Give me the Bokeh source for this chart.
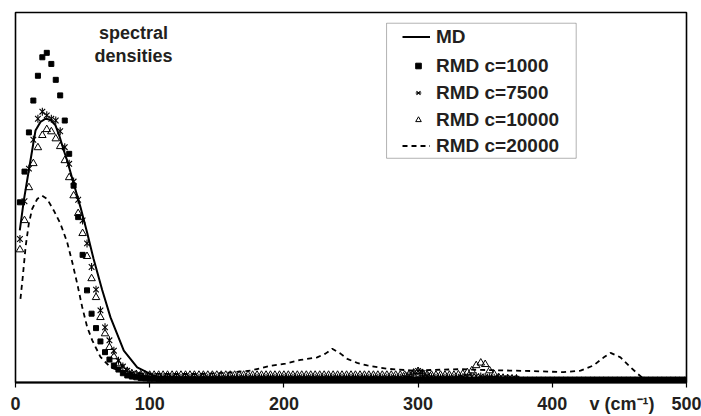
import math
from bokeh.plotting import figure
from bokeh.models import Range1d, FixedTicker, Legend, LegendItem, Label, BoxAnnotation
from bokeh.embed import file_html
from bokeh.resources import INLINE

FONT = "Liberation Sans"
INK = "#231f20"

# frequency grid (cm^-1) of the RMD spectra
freq = [
    3.3, 6.7, 10.0, 13.3, 16.7, 20.0, 23.3, 26.7, 30.0, 33.3, 36.7, 40.0, 43.3, 46.7, 50.0,
    53.3, 56.7, 60.0, 63.3, 66.7, 70.0, 73.3, 76.7, 80.0, 83.3, 86.7, 90.0, 93.3, 96.7, 100.0,
    103.3, 106.7, 110.0, 113.3, 116.7, 120.0, 123.3, 126.7, 130.0, 133.3, 136.7, 140.0, 143.3, 146.7, 150.0,
    153.3, 156.7, 160.0, 163.3, 166.7, 170.0, 173.3, 176.7, 180.0, 183.3, 186.7, 190.0, 193.3, 196.7, 200.0,
    203.3, 206.7, 210.0, 213.3, 216.7, 220.0, 223.3, 226.7, 230.0, 233.3, 236.7, 240.0, 243.3, 246.7, 250.0,
    253.3, 256.7, 260.0, 263.3, 266.7, 270.0, 273.3, 276.7, 280.0, 283.3, 286.7, 290.0, 293.3, 296.7, 300.0,
    303.3, 306.7, 310.0, 313.3, 316.7, 320.0, 323.3, 326.7, 330.0, 333.3, 336.7, 340.0, 343.3, 346.7, 350.0,
    353.3, 356.7, 360.0, 363.3, 366.7, 370.0, 373.3, 376.7, 380.0, 383.3, 386.7, 390.0, 393.3, 396.7, 400.0,
    403.3, 406.7, 410.0, 413.3, 416.7, 420.0, 423.3, 426.7, 430.0, 433.3, 436.7, 440.0, 443.3, 446.7, 450.0,
    453.3, 456.7, 460.0, 463.3, 466.7, 470.0, 473.3, 476.7, 480.0, 483.3, 486.7, 490.0, 493.3, 496.7, 500.0,
]

# RMD c=1000 (filled squares)
rmd_1000 = [
    48.7, 57.0, 67.6, 76.2, 82.9, 87.9, 89.1, 86.1, 81.8, 77.6, 70.8, 61.8, 53.2, 44.7, 34.5,
    24.9, 18.6, 14.7, 11.1, 8.2, 6.2, 4.6, 3.5, 2.5, 1.9, 1.6, 1.4, 1.2, 1.1, 1.0,
    1.0, 0.9, 0.9, 0.9, 0.9, 0.8, 0.8, 0.8, 0.8, 0.8, 0.8, 0.8, 0.8, 0.8, 0.8,
    0.8, 0.8, 0.8, 0.8, 0.8, 0.8, 0.8, 0.8, 0.8, 0.8, 0.8, 0.8, 0.8, 0.8, 0.8,
    0.8, 0.8, 0.8, 0.8, 0.8, 0.8, 0.8, 0.8, 0.8, 0.8, 0.8, 0.8, 0.8, 0.8, 0.8,
    0.8, 0.8, 0.8, 0.8, 0.8, 0.8, 0.8, 0.8, 0.8, 0.8, 0.8, 0.8, 0.8, 0.8, 0.9,
    0.9, 0.8, 0.8, 0.8, 0.8, 0.8, 0.8, 0.8, 0.8, 0.8, 0.8, 0.8, 0.8, 0.9, 0.9,
    0.9, 0.8, 0.8, 0.8, 0.8, 0.8, 0.8, 0.8, 0.8, 0.8, 0.8, 0.8, 0.8, 0.8, 0.8,
    0.8, 0.8, 0.8, 0.8, 0.8, 0.8, 0.8, 0.8, 0.8, 0.8, 0.8, 0.8, 0.8, 0.8, 0.8,
    0.8, 0.8, 0.8, 0.8, 0.8, 0.8, 0.8, 0.8, 0.8, 0.8, 0.8, 0.8, 0.8, 0.8, 0.8,
]

# RMD c=7500 (asterisks)
rmd_7500 = [
    38.8, 49.0, 57.8, 65.6, 71.3, 73.2, 72.2, 71.3, 70.8, 67.9, 63.6, 59.1, 54.3, 49.4, 43.8,
    37.6, 31.2, 25.1, 19.5, 14.9, 11.4, 8.6, 5.9, 4.3, 3.2, 2.4, 2.0, 1.8, 1.6, 1.5,
    1.5, 1.4, 1.4, 1.4, 1.4, 1.3, 1.3, 1.3, 1.3, 1.3, 1.3, 1.3, 1.3, 1.3, 1.3,
    1.3, 1.3, 1.3, 1.3, 1.3, 1.3, 1.3, 1.3, 1.3, 1.3, 1.3, 1.3, 1.3, 1.3, 1.3,
    1.3, 1.3, 1.3, 1.3, 1.3, 1.3, 1.3, 1.3, 1.3, 1.3, 1.3, 1.3, 1.3, 1.3, 1.3,
    1.3, 1.3, 1.3, 1.3, 1.3, 1.3, 1.3, 1.3, 1.3, 1.3, 1.3, 1.5, 1.9, 2.6, 3.1,
    2.6, 1.8, 1.4, 1.3, 1.3, 1.3, 1.3, 1.3, 1.3, 1.4, 1.5, 1.6, 1.7, 1.6, 1.5,
    1.4, 1.3, 1.2, 1.1, 1.1, 1.0, 1.0,
]

# RMD c=10000 (open triangles)
rmd_10000 = [
    35.9, 43.8, 52.7, 59.2, 63.5, 66.8, 68.4, 67.8, 65.9, 63.8, 60.0, 55.4, 50.5, 45.7, 40.3,
    34.1, 28.1, 23.0, 17.6, 13.2, 9.5, 7.0, 5.1, 3.8, 3.0, 2.4, 2.2, 2.1, 2.0, 2.0,
    2.0, 2.0, 2.0, 2.0, 2.0, 2.0, 2.0, 2.0, 2.0, 2.0, 2.0, 2.0, 2.0, 2.0, 2.0,
    2.0, 2.0, 2.0, 2.0, 2.0, 2.0, 2.0, 2.0, 2.0, 2.0, 2.0, 2.0, 2.0, 2.0, 2.0,
    2.0, 2.0, 2.0, 2.0, 2.0, 2.0, 2.0, 2.0, 2.0, 2.0, 2.0, 2.0, 2.0, 2.0, 2.0,
    2.0, 2.0, 2.0, 2.0, 2.0, 2.0, 2.0, 2.0, 2.0, 2.0, 2.0, 2.0, 2.2, 2.6, 3.0,
    2.5, 2.1, 2.0, 2.0, 2.0, 2.0, 2.0, 2.0, 2.1, 2.3, 2.7, 3.2, 4.6, 5.3, 4.9,
    3.2, 2.2, 1.4, 1.2, 1.1, 1.0, 1.0,
]

# MD (solid line)
md_x = [3.2, 6.2, 9.9, 12.4, 14.9, 18.6, 22.4, 26.1, 29.8, 33.0, 36.0, 38.5, 43.4, 48.4,
        53.4, 58.1, 64.6, 70.8, 80.7, 90.7, 105.6, 130.0, 200.0, 300.0, 400.0, 500.0]
md_y = [41.1, 49.2, 57.3, 62.7, 68.1, 70.4, 71.3, 71.0, 69.5, 66.3, 62.7, 60.0, 53.7, 47.4,
        40.5, 33.5, 25.0, 17.6, 8.6, 4.1, 1.4, 1.1, 1.0, 1.0, 1.0, 1.0]

# RMD c=20000 (dashed line)
c20k_x = [3.7, 5.4, 7.5, 9.9, 12.4, 16.2, 19.9, 23.6, 28.5, 33.5, 38.5, 42.3, 46.0, 49.7,
          53.4, 57.2, 63.3, 70.8, 80.7, 93.1, 115.5, 137.9, 160.2, 175.1, 190.0, 201.2,
          212.4, 224.8, 231.0, 236.0, 242.2, 247.2, 254.6, 262.1, 277.0, 296.8, 311.7,
          331.6, 346.5, 383.8, 408.3, 421.0, 430.7, 438.4, 443.4, 450.8, 458.3, 463.5,
          468.2, 471.7]
c20k_y = [22.6, 28.5, 36.6, 42.9, 46.9, 49.6, 50.5, 49.6, 46.5, 42.9, 37.9, 32.5, 26.7, 20.4,
          15.0, 11.4, 6.9, 4.1, 2.8, 2.4, 2.3, 2.3, 2.7, 3.2, 4.5, 5.1,
          6.1, 6.8, 7.8, 9.1, 7.8, 6.4, 5.3, 4.6, 3.7, 3.2, 3.4,
          3.6, 3.4, 3.1, 2.8, 3.2, 4.6, 6.8, 8.0, 6.8, 4.1, 2.4,
          1.0, 0.3]

x_ticks = [0, 100, 200, 300, 400, 500]
x_title = "v (cm\u207b\u00b9)"
x_title_pos = 452
series_labels = ["MD", "RMD c=1000", "RMD c=7500", "RMD c=10000", "RMD c=20000"]

p = figure(width=701, height=416, output_backend="svg", toolbar_location=None,
           x_range=Range1d(0, 500), y_range=Range1d(0, 100),
           y_axis_location=None, min_border_left=15, min_border_right=15,
           min_border_top=12, min_border_bottom=34)
p.background_fill_color = "white"
p.border_fill_color = "white"
p.outline_line_color = "black"
p.outline_line_width = 1.6
p.grid.visible = False

# single x axis: labelled "major" ticks (incl. the axis title slot) are invisible,
# the visible tick marks are the minor ticks at the numbered positions
ax = p.xaxis[0]
ax.ticker = FixedTicker(ticks=x_ticks + [x_title_pos], minor_ticks=x_ticks)
ax.major_label_overrides = {x_title_pos: x_title}
ax.axis_line_width = 2
ax.axis_line_color = "black"
ax.major_tick_out = 5
ax.major_tick_in = 0
ax.major_tick_line_color = None
ax.minor_tick_out = 5
ax.minor_tick_in = 0
ax.minor_tick_line_color = "black"
ax.minor_tick_line_width = 1.2
ax.major_label_standoff = 6
ax.major_label_text_font = FONT
ax.major_label_text_font_style = "bold"
ax.major_label_text_font_size = "18px"
ax.major_label_text_color = INK

r_sq = p.scatter(freq[:len(rmd_1000)], rmd_1000, marker="square", size=5,
                 fill_color="black", line_color="black")
r_ax = p.scatter(freq[:len(rmd_7500)], rmd_7500, marker="x", size=8,
                 line_color="black", line_width=1.1)
r_ad = p.scatter(freq[:len(rmd_7500)], rmd_7500, marker="dash", size=8, angle=math.pi / 2,
                 line_color="black", line_width=1.1)
r_tr = p.scatter(freq[:len(rmd_10000)], rmd_10000, marker="triangle", size=7.5,
                 fill_alpha=0, line_color="black", line_width=1)
r_md = p.line(md_x, md_y, line_color="black", line_width=2)
r_20 = p.line(c20k_x, c20k_y, line_color="black", line_width=1.8, line_dash="5 4")

# legend frame
p.add_layout(BoxAnnotation(left=276.5, right=417.8, bottom=60.6, top=97.1,
                           fill_color="white", fill_alpha=1.0,
                           line_color="black", line_width=1))

common = dict(padding=0, margin=0, label_height=23, label_text_font=FONT,
              label_text_font_style="bold", label_text_font_size="19px",
              label_text_color=INK, border_line_alpha=0, background_fill_alpha=0)

leg_md = Legend(items=[LegendItem(label=series_labels[0], renderers=[r_md])],
                location=(387, 334), glyph_width=28, glyph_height=23, label_standoff=6,
                **common)
leg_mk = Legend(items=[
    LegendItem(label=series_labels[1], renderers=[r_sq]),
    LegendItem(label=series_labels[2], renderers=[r_ax, r_ad]),
    LegendItem(label=series_labels[3], renderers=[r_tr]),
], location=(396, 251), glyph_width=14, glyph_height=23, label_standoff=11, spacing=4,
    **common)
leg_20 = Legend(items=[LegendItem(label=series_labels[4], renderers=[r_20])],
                location=(387, 225), glyph_width=28, glyph_height=23, label_standoff=6,
                **common)
for lg in (leg_md, leg_mk, leg_20):
    p.add_layout(lg)

for txt, yy in (("spectral", 350), ("densities", 327)):
    p.add_layout(Label(x=118, y=yy, x_units="screen", y_units="screen", text=txt,
                       text_align="center", text_baseline="alphabetic",
                       text_font=FONT, text_font_style="bold", text_font_size="18px",
                       text_color=INK))

open("out.html", "w").write(file_html(p, INLINE))
